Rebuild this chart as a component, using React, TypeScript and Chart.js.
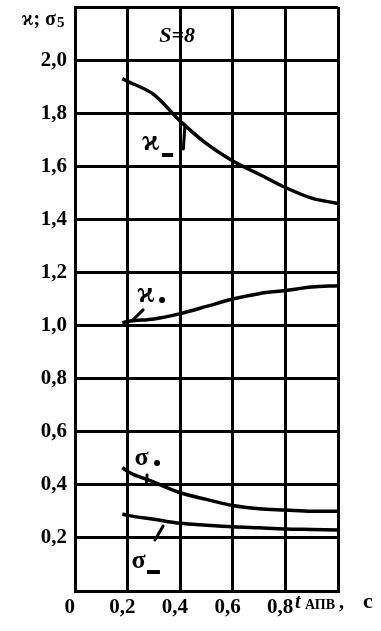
import React, { useEffect, useRef } from "react";
import { Chart, registerables } from "chart.js";

Chart.register(...registerables);

// ---- data ----
const tValues = [0.18, 0.2, 0.3, 0.4, 0.5, 0.6, 0.7, 0.8, 0.9, 1.0];
const kappaMinus = [1.93, 1.92, 1.87, 1.77, 1.685, 1.62, 1.57, 1.52, 1.48, 1.46];
const kappaPlus = [1.01, 1.015, 1.025, 1.045, 1.072, 1.1, 1.12, 1.132, 1.145, 1.15];
const sigmaPlus = [0.465, 0.45, 0.41, 0.37, 0.345, 0.322, 0.31, 0.305, 0.3, 0.3];
const sigmaMinus = [0.29, 0.285, 0.27, 0.255, 0.248, 0.242, 0.238, 0.234, 0.232, 0.23];

const xTickLabels: Record<string, string> = {
  "0": "0  ",
  "0.2": "0,2  ",
  "0.4": "0,4  ",
  "0.6": "0,6  ",
  "0.8": "0,8  ",
  "1": "",
};
const yTickLabels: Record<string, string> = {
  "0.2": "0,2",
  "0.4": "0,4",
  "0.6": "0,6",
  "0.8": "0,8",
  "1": "1,0",
  "1.2": "1,2",
  "1.4": "1,4",
  "1.6": "1,6",
  "1.8": "1,8",
  "2": "2,0",
};

const FONT = "'Liberation Serif', 'DejaVu Serif', serif";

function toPts(ys: number[]) {
  return tValues.map((x, i) => ({ x, y: ys[i] }));
}

const annotPlugin = {
  id: "annot",
  afterDraw(chart: any) {
    const ctx = chart.ctx as CanvasRenderingContext2D;
    const xs = chart.scales.x;
    const ys = chart.scales.y;
    const px = (v: number) => xs.getPixelForValue(v);
    const py = (v: number) => ys.getPixelForValue(v);
    ctx.save();
    ctx.fillStyle = "#000";
    ctx.strokeStyle = "#000";
    ctx.textBaseline = "alphabetic";

    // y axis title
    ctx.font = `bold 20px ${FONT}`;
    ctx.textAlign = "right";
    ctx.fillText("ϰ; σ", 56, 25);
    ctx.font = `bold 15px ${FONT}`;
    ctx.textAlign = "left";
    ctx.fillText("5", 57, 27);

    // x axis title
    const by = 608;
    ctx.textAlign = "left";
    ctx.font = `italic bold 20px ${FONT}`;
    ctx.fillText("t", 295, by);
    ctx.font = `bold 14px ${FONT}`;
    ctx.fillText("АПВ", 305, by + 1);
    ctx.font = `bold 20px ${FONT}`;
    ctx.fillText(",", 339, by);
    ctx.font = `bold 22px ${FONT}`;
    ctx.fillText("с", 363, by);

    // S=8
    ctx.textAlign = "center";
    ctx.font = `italic bold 22px ${FONT}`;
    ctx.fillText("S=8", px(0.388), py(2.07));

    // curve labels
    ctx.textAlign = "left";
    ctx.font = `bold 30px ${FONT}`;
    ctx.fillText("ϰ", px(0.255), py(1.661));
    ctx.fillText("ϰ", px(0.237), py(1.089));
    ctx.font = `bold 26px ${FONT}`;
    ctx.fillText("σ", px(0.226), py(0.475));
    ctx.fillText("σ", px(0.215), py(0.087));
    const rect = (x1: number, y1: number, x2: number, y2: number) => {
      ctx.fillRect(px(x1), py(y1), px(x2) - px(x1), py(y2) - py(y1));
    };
    rect(0.331, 1.65, 0.373, 1.635);
    rect(0.274, 0.079, 0.323, 0.064);
    ctx.beginPath();
    ctx.arc(px(0.331), py(1.096), 3, 0, Math.PI * 2);
    ctx.fill();
    ctx.beginPath();
    ctx.arc(px(0.312), py(0.482), 3, 0, Math.PI * 2);
    ctx.fill();

    // pointers
    ctx.lineWidth = 3;
    ctx.lineCap = "round";
    const seg = (x1: number, y1: number, x2: number, y2: number) => {
      ctx.beginPath();
      ctx.moveTo(px(x1), py(y1));
      ctx.lineTo(px(x2), py(y2));
      ctx.stroke();
    };
    seg(0.418, 1.755, 0.412, 1.665);
    seg(0.259, 1.059, 0.22, 1.021);
    seg(0.335, 0.245, 0.304, 0.192);
    seg(0.274, 0.437, 0.272, 0.41);
    ctx.restore();
  },
};

export default function App() {
  const canvasRef = useRef<HTMLCanvasElement | null>(null);

  useEffect(() => {
    if (!canvasRef.current) return;
    const lineDs = (label: string, ys: number[]) => ({
      label,
      data: toPts(ys),
      borderColor: "#000",
      borderWidth: 3.5,
      pointRadius: 0,
      fill: false,
      cubicInterpolationMode: "monotone" as const,
    });
    const chart = new Chart(canvasRef.current, {
      type: "line",
      data: {
        datasets: [
          lineDs("ϰ₋", kappaMinus),
          lineDs("ϰ₊", kappaPlus),
          lineDs("σ₊", sigmaPlus),
          lineDs("σ₋", sigmaMinus),
        ],
      },
      options: {
        responsive: false,
        animation: false,
        layout: { padding: { left: 0, right: 43, top: 7, bottom: 0 } },
        plugins: {
          legend: { display: false },
          tooltip: { enabled: false },
        },
        scales: {
          x: {
            type: "linear",
            min: 0,
            max: 1.0,
            border: { display: true, color: "#000", width: 3 },
            grid: { color: "#000", lineWidth: 3, drawTicks: false },
            ticks: {
              stepSize: 0.2,
              color: "#000",
              padding: 4,
              maxRotation: 0,
              font: { family: FONT, size: 21, weight: "bold" },
              callback: (v: any) => xTickLabels[String(Math.round(Number(v) * 10) / 10)] ?? "",
            },
            afterFit: (s: any) => {
              s.height = 40;
              s.paddingLeft = 0;
              s.paddingRight = 0;
            },
          },
          y: {
            type: "linear",
            min: 0,
            max: 2.2,
            border: { display: true, color: "#000", width: 3 },
            grid: { color: "#000", lineWidth: 3, drawTicks: false },
            ticks: {
              stepSize: 0.2,
              color: "#000",
              padding: 8,
              font: { family: FONT, size: 21, weight: "bold" },
              callback: (v: any) => yTickLabels[String(Math.round(Number(v) * 10) / 10)] ?? "",
            },
            afterFit: (s: any) => {
              s.width = 75;
              s.paddingTop = 0;
              s.paddingBottom = 0;
            },
          },
        },
      },
      plugins: [annotPlugin],
    });
    return () => chart.destroy();
  }, []);

  return (
    <div style={{ position: "fixed", left: 0, top: 0, width: 381, height: 631, background: "#fff" }}>
      <canvas ref={canvasRef} width={381} height={631} style={{ display: "block" }} />
    </div>
  );
}
